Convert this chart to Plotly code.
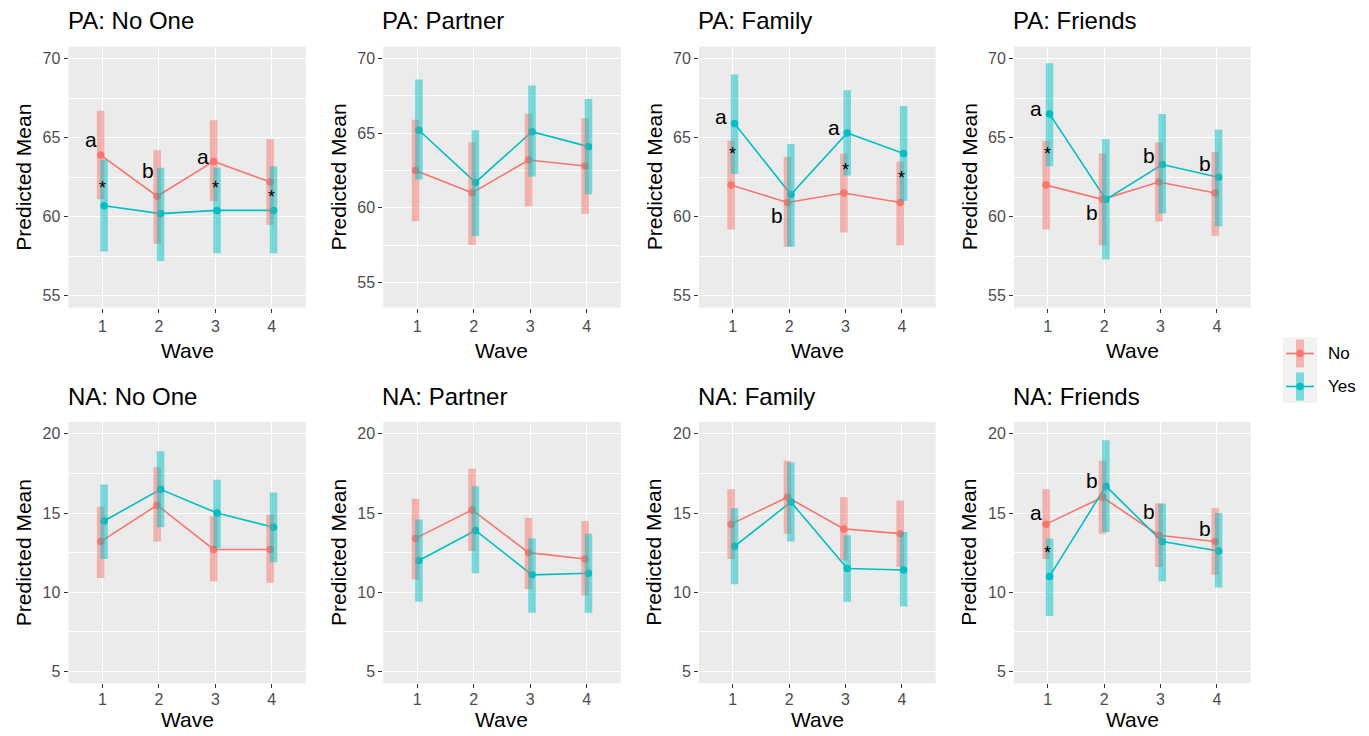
import plotly.graph_objects as go

# ---------------- data ----------------
waves = [1, 2, 3, 4]
groups = ["No", "Yes"]
panel_titles = ["PA: No One", "PA: Partner", "PA: Family", "PA: Friends",
                "NA: No One", "NA: Partner", "NA: Family", "NA: Friends"]
pa_ticks = [55, 60, 65, 70]
na_ticks = [5, 10, 15, 20]

# PA: No One
pa_noone_no = [63.9, 61.3, 63.5, 62.2]
pa_noone_no_lo = [61.1, 58.3, 61.0, 59.5]
pa_noone_no_hi = [66.7, 64.2, 66.1, 64.9]
pa_noone_yes = [60.7, 60.2, 60.4, 60.4]
pa_noone_yes_lo = [57.8, 57.2, 57.7, 57.7]
pa_noone_yes_hi = [63.6, 63.1, 63.1, 63.2]

# PA: Partner
pa_partner_no = [62.5, 61.0, 63.2, 62.8]
pa_partner_no_lo = [59.1, 57.5, 60.1, 59.6]
pa_partner_no_hi = [65.9, 64.4, 66.3, 66.0]
pa_partner_yes = [65.2, 61.7, 65.1, 64.1]
pa_partner_yes_lo = [61.9, 58.1, 62.1, 60.9]
pa_partner_yes_hi = [68.6, 65.2, 68.2, 67.3]

# PA: Family
pa_family_no = [62.0, 60.9, 61.5, 60.9]
pa_family_no_lo = [59.2, 58.1, 59.0, 58.2]
pa_family_no_hi = [64.8, 63.8, 64.0, 63.5]
pa_family_yes = [65.9, 61.4, 65.3, 64.0]
pa_family_yes_lo = [62.7, 58.1, 62.6, 61.0]
pa_family_yes_hi = [69.0, 64.6, 68.0, 67.0]

# PA: Friends
pa_friends_no = [62.0, 61.1, 62.2, 61.5]
pa_friends_no_lo = [59.2, 58.2, 59.7, 58.8]
pa_friends_no_hi = [64.8, 64.0, 64.7, 64.1]
pa_friends_yes = [66.5, 61.1, 63.3, 62.5]
pa_friends_yes_lo = [63.2, 57.3, 60.2, 59.4]
pa_friends_yes_hi = [69.7, 64.9, 66.5, 65.5]

# NA: No One
na_noone_no = [13.2, 15.5, 12.7, 12.7]
na_noone_no_lo = [10.9, 13.2, 10.7, 10.6]
na_noone_no_hi = [15.4, 17.9, 14.8, 14.9]
na_noone_yes = [14.5, 16.5, 15.0, 14.1]
na_noone_yes_lo = [12.1, 14.1, 12.8, 11.9]
na_noone_yes_hi = [16.8, 18.9, 17.1, 16.3]

# NA: Partner
na_partner_no = [13.4, 15.2, 12.5, 12.1]
na_partner_no_lo = [10.8, 12.6, 10.2, 9.8]
na_partner_no_hi = [15.9, 17.8, 14.7, 14.5]
na_partner_yes = [12.0, 13.9, 11.1, 11.2]
na_partner_yes_lo = [9.4, 11.2, 8.7, 8.7]
na_partner_yes_hi = [14.6, 16.7, 13.4, 13.7]

# NA: Family
na_family_no = [14.3, 16.0, 14.0, 13.7]
na_family_no_lo = [12.1, 13.7, 12.0, 11.6]
na_family_no_hi = [16.5, 18.3, 16.0, 15.8]
na_family_yes = [12.9, 15.7, 11.5, 11.4]
na_family_yes_lo = [10.5, 13.2, 9.4, 9.1]
na_family_yes_hi = [15.3, 18.2, 13.6, 13.8]

# NA: Friends
na_friends_no = [14.3, 16.0, 13.6, 13.2]
na_friends_no_lo = [12.1, 13.7, 11.6, 11.1]
na_friends_no_hi = [16.5, 18.3, 15.6, 15.3]
na_friends_yes = [11.0, 16.7, 13.2, 12.6]
na_friends_yes_lo = [8.5, 13.8, 10.7, 10.3]
na_friends_yes_hi = [13.4, 19.6, 15.6, 15.0]

# significance labels: panel index (0-7), x position (wave), y value, text
sig_panel = [0, 0, 0, 0, 0, 0,
             2, 2, 2, 2, 2, 2,
             3, 3, 3, 3, 3,
             7, 7, 7, 7, 7]
sig_x = [0.8, 1.8, 2.79, 1.0, 3.0, 4.0,
         0.79, 1.79, 2.79, 1.0, 3.0, 4.0,
         0.79, 1.79, 2.79, 3.79, 1.0,
         0.79, 1.79, 2.79, 3.79, 1.0]
sig_y = [64.9, 62.9, 63.8, 62.1, 62.1, 61.5,
         66.35, 60.1, 65.65, 64.2, 63.2, 62.7,
         66.85, 60.3, 63.9, 63.35, 64.2,
         15.05, 17.05, 15.1, 14.05, 12.7]
sig_text = ["a", "b", "a", "*", "*", "*",
            "a", "b", "a", "*", "*", "*",
            "a", "b", "b", "b", "*",
            "a", "b", "b", "b", "*"]

panel_data = [
    (pa_noone_no, pa_noone_no_lo, pa_noone_no_hi, pa_noone_yes, pa_noone_yes_lo, pa_noone_yes_hi),
    (pa_partner_no, pa_partner_no_lo, pa_partner_no_hi, pa_partner_yes, pa_partner_yes_lo, pa_partner_yes_hi),
    (pa_family_no, pa_family_no_lo, pa_family_no_hi, pa_family_yes, pa_family_yes_lo, pa_family_yes_hi),
    (pa_friends_no, pa_friends_no_lo, pa_friends_no_hi, pa_friends_yes, pa_friends_yes_lo, pa_friends_yes_hi),
    (na_noone_no, na_noone_no_lo, na_noone_no_hi, na_noone_yes, na_noone_yes_lo, na_noone_yes_hi),
    (na_partner_no, na_partner_no_lo, na_partner_no_hi, na_partner_yes, na_partner_yes_lo, na_partner_yes_hi),
    (na_family_no, na_family_no_lo, na_family_no_hi, na_family_yes, na_family_yes_lo, na_family_yes_hi),
    (na_friends_no, na_friends_no_lo, na_friends_no_hi, na_friends_yes, na_friends_yes_lo, na_friends_yes_hi),
]

# ---------------- styling / layout ----------------
OFF = 8  # default page body margin
W, H = 1369 - OFF, 736 - OFF
FONT = "Liberation Sans, Arial, sans-serif"
COL = {"No": "#F8766D", "Yes": "#00BFC4"}
COL_A = {"No": "rgba(248,118,109,0.5)", "Yes": "rgba(0,191,196,0.5)"}
DODGE = {"No": -0.03, "Yes": 0.03}

col_px = [(68.5, 305.7), (383.3, 620.7), (699.0, 935.7), (1014.0, 1250.7)]
row_px = [(46.7, 307.7), (422.0, 683.3)]
wave_title_gap = [43, 36]
y_ranges = [[54.25, 70.75], [53.3, 70.8], [54.25, 70.75], [54.25, 70.75],
            [4.25, 20.75], [4.25, 20.75], [4.25, 20.75], [4.25, 20.75]]


def px_x(p):
    return (p - OFF) / W


def px_y(p):
    return 1 - (p - OFF) / H


fig = go.Figure()
layout = dict(
    width=W, height=H,
    margin=dict(l=0, r=0, t=0, b=0),
    paper_bgcolor="white", plot_bgcolor="#EBEBEB",
    showlegend=False,
    font=dict(family=FONT),
)
annotations = []
shapes = []

for i in range(8):
    r, c = divmod(i, 4)
    ax = "" if i == 0 else str(i + 1)
    x0, x1 = col_px[c]
    y0, y1 = row_px[r]
    ticks = pa_ticks if r == 0 else na_ticks
    layout["xaxis" + ax] = dict(
        domain=[px_x(x0), px_x(x1)], anchor="y" + ax,
        range=[0.4, 4.6], tickvals=waves, ticktext=[str(w) for w in waves],
        showgrid=True, gridcolor="white", gridwidth=1.1, zeroline=False,
        ticks="outside", ticklen=4, tickwidth=1, tickcolor="#333333",
        tickfont=dict(size=16, color="#4D4D4D", family=FONT),
        ticklabelstandoff=(0 if r == 0 else -3),
        showline=False, fixedrange=True,
    )
    layout["yaxis" + ax] = dict(
        domain=[px_y(y1), px_y(y0)], anchor="x" + ax,
        range=y_ranges[i], tickvals=ticks, ticktext=[str(t) for t in ticks],
        showgrid=True, gridcolor="white", gridwidth=1.1, zeroline=False,
        minor=dict(tickvals=[t - 2.5 for t in ticks] + [ticks[-1] + 2.5],
                   showgrid=True, gridcolor="white", gridwidth=0.55, ticks=""),
        ticks="outside", ticklen=4, tickwidth=1, tickcolor="#333333",
        tickfont=dict(size=16, color="#4D4D4D", family=FONT),
        showline=False, fixedrange=True,
    )

    no, no_lo, no_hi, yes, yes_lo, yes_hi = panel_data[i]
    series = {"No": (no, no_lo, no_hi), "Yes": (yes, yes_lo, yes_hi)}
    # lines and points
    for g in groups:
        m, lo, hi = series[g]
        fig.add_trace(go.Scatter(
            x=[w + DODGE[g] for w in waves], y=m, mode="lines+markers",
            line=dict(color=COL[g], width=1.6),
            marker=dict(color=COL[g], size=7.5),
            xaxis="x" + ax, yaxis="y" + ax, name=g, hoverinfo="skip",
        ))
    # translucent interval bars
    for g in groups:
        m, lo, hi = series[g]
        bx, by = [], []
        for w, l, h in zip(waves, lo, hi):
            bx += [w + DODGE[g], w + DODGE[g], None]
            by += [l, h, None]
        fig.add_trace(go.Scatter(
            x=bx, y=by, mode="lines",
            line=dict(color=COL_A[g], width=7.5),
            xaxis="x" + ax, yaxis="y" + ax, name=g, hoverinfo="skip",
        ))

    # panel title
    annotations.append(dict(
        text=panel_titles[i], x=px_x(x0 - 3), y=px_y(y0 - 26), xref="paper", yref="paper",
        xanchor="left", yanchor="middle", showarrow=False,
        font=dict(size=24, color="black", family=FONT),
    ))
    # x axis title
    annotations.append(dict(
        text="Wave", x=px_x((x0 + x1) / 2), y=px_y(y1 + wave_title_gap[r]), xref="paper", yref="paper",
        xanchor="center", yanchor="middle", showarrow=False,
        font=dict(size=21, color="black", family=FONT),
    ))
    # y axis title
    annotations.append(dict(
        text="Predicted Mean", x=px_x(x0 - 45), y=px_y((y0 + y1) / 2), xref="paper", yref="paper",
        xanchor="center", yanchor="middle", showarrow=False, textangle=-90,
        font=dict(size=21, color="black", family=FONT),
    ))

# significance labels
for p, x, y, t in zip(sig_panel, sig_x, sig_y, sig_text):
    ax = "" if p == 0 else str(p + 1)
    annotations.append(dict(
        text=t, x=x, y=y, xref="x" + ax, yref="y" + ax,
        xanchor="center", yanchor="middle", showarrow=False,
        yshift=-4 if t == "*" else 0,
        font=dict(size=18 if t == "*" else 21, color="black", family=FONT),
    ))

# legend (drawn manually, ggplot-style keys)
key_x0, key_x1 = 1283, 1317
key_rows = {"No": (337, 370), "Yes": (370, 403)}
cx = (key_x0 + key_x1) / 2
for g in groups:
    ky0, ky1 = key_rows[g]
    cy = (ky0 + ky1) / 2
    shapes.append(dict(type="rect", xref="paper", yref="paper",
                       x0=px_x(key_x0), x1=px_x(key_x1), y0=px_y(ky1), y1=px_y(ky0),
                       fillcolor="#F2F2F2", line=dict(width=0), layer="above"))
    shapes.append(dict(type="line", xref="paper", yref="paper",
                       x0=px_x(key_x0 + 3), x1=px_x(key_x1 - 3), y0=px_y(cy), y1=px_y(cy),
                       line=dict(color=COL[g], width=1.6), layer="above"))
    shapes.append(dict(type="circle", xref="paper", yref="paper",
                       x0=px_x(cx - 3.7), x1=px_x(cx + 3.7), y0=px_y(cy + 3.7), y1=px_y(cy - 3.7),
                       fillcolor=COL[g], line=dict(width=0), layer="above"))
    shapes.append(dict(type="rect", xref="paper", yref="paper",
                       x0=px_x(cx - 4), x1=px_x(cx + 4), y0=px_y(ky1 - 2.5), y1=px_y(ky0 + 2.5),
                       fillcolor=COL_A[g], line=dict(width=0), layer="above"))
    annotations.append(dict(
        text=g, x=px_x(1326), y=px_y(cy), xref="paper", yref="paper",
        xanchor="left", yanchor="middle", showarrow=False,
        font=dict(size=17, color="black", family=FONT),
    ))

layout["annotations"] = annotations
layout["shapes"] = shapes
fig.update_layout(**layout)
fig.write_html("out.html")
